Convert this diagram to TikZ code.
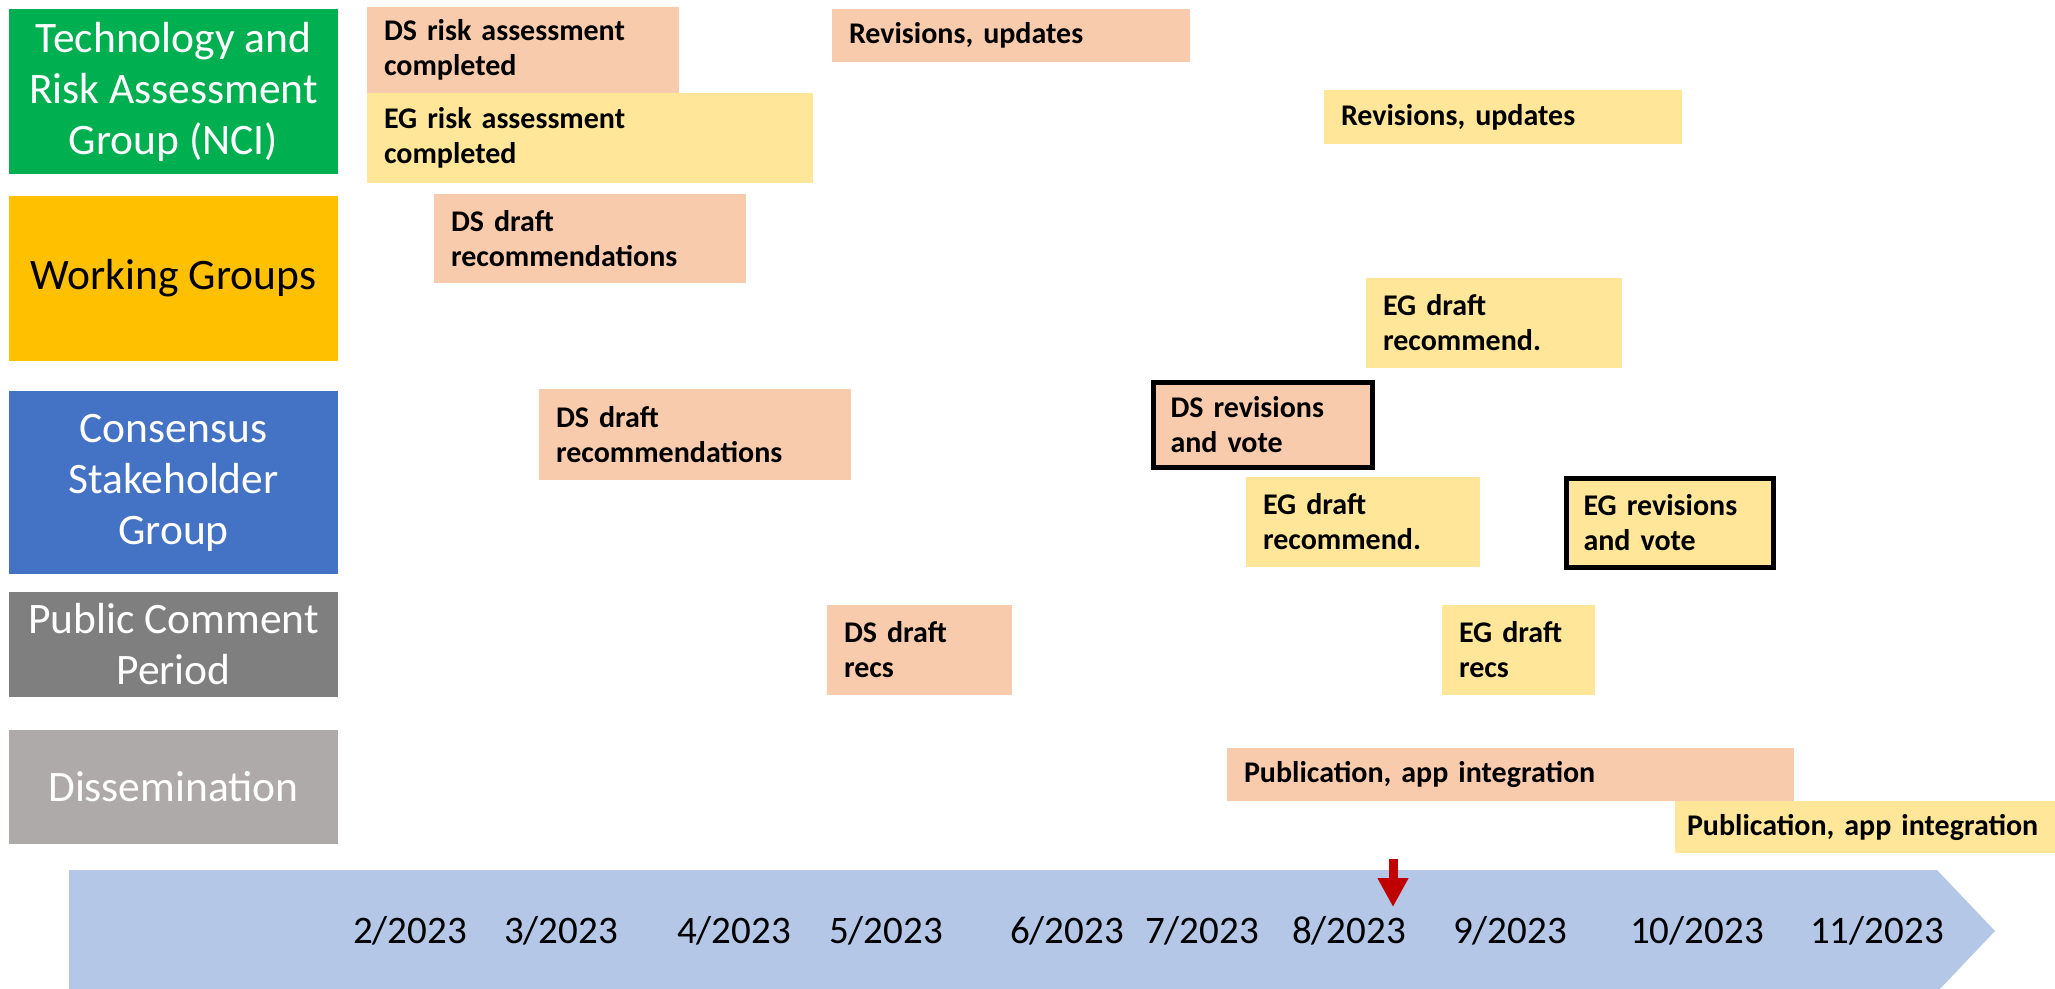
\documentclass[tikz,border=0pt]{standalone}
\usepackage{fontspec}
\setmainfont{Carlito}
\usetikzlibrary{arrows.meta}
\definecolor{dspeach}{HTML}{F8CBAD}
\definecolor{egyellow}{HTML}{FFE699}
\definecolor{trgreen}{HTML}{00B050}
\definecolor{wgamber}{HTML}{FFC000}
\definecolor{csgblue}{HTML}{4472C4}
\definecolor{pcgray}{HTML}{7F7F7F}
\definecolor{disgray}{HTML}{AEAAAA}
\definecolor{lineblue}{HTML}{B4C7E7}
\definecolor{nowred}{HTML}{C00000}
\begin{document}
\begin{tikzpicture}[x=1pt, y=-1pt,
    catbox/.style={minimum width=329pt, inner sep=0pt, align=center, text=white,
      font=\fontsize{43.5}{51}\selectfont},
    task/.style={inner xsep=17pt, inner ysep=0pt, align=left,
      font=\fontsize{30}{35}\selectfont\bfseries},
    dsbox/.style={task, fill=dspeach},
    egbox/.style={task, fill=egyellow},
    votebox/.style={draw=black, line width=5pt}]
  \useasboundingbox (0,0) rectangle (2055,988);

  % groups on the left
  \node[catbox, fill=trgreen, minimum height=165pt] (tra) at (173.5,91.5) {Technology and\\Risk Assessment\\Group (NCI)};
  \node[catbox, fill=wgamber, minimum height=165pt, text=black] (wg) at (173.5,278) {Working Groups};
  \node[catbox, fill=csgblue, minimum height=183pt] (csg) at (173.5,482.5) {Consensus\\Stakeholder\\Group};
  \node[catbox, fill=pcgray, minimum height=105pt] (pc) at (173.5,644.5) {Public Comment\\Period};
  \node[catbox, fill=disgray, minimum height=114pt] (dis) at (173.5,787) {Dissemination};

  % tasks
  \node[dsbox, text width=278pt, minimum height=86pt] (dsrisk) at (523,50) {DS risk assessment\\completed};
  \node[egbox, text width=412pt, minimum height=90pt] (egrisk) at (590,138) {EG risk assessment\\completed};
  \node[dsbox, text width=324pt, minimum height=53pt] (dsupd) at (1011,35.5) {Revisions, updates};
  \node[egbox, text width=324pt, minimum height=54pt] (egupd) at (1503,117) {Revisions, updates};
  \node[dsbox, text width=278pt, minimum height=89pt] (wgds) at (590,238.5) {DS draft\\recommendations};
  \node[egbox, text width=222pt, minimum height=90pt] (wgeg) at (1494,323) {EG draft\\recommend.};
  \node[dsbox, text width=278pt, minimum height=91pt] (csgds) at (695,434.5) {DS draft\\recommendations};
  \node[dsbox, votebox, text width=185pt, minimum height=85pt] (dsvote) at (1263,425) {DS revisions\\and vote};
  \node[egbox, text width=200pt, minimum height=90pt] (csgeg) at (1363,522) {EG draft\\recommend.};
  \node[egbox, votebox, text width=173pt, minimum height=89pt] (egvote) at (1670,523) {EG revisions\\and vote};
  \node[dsbox, text width=151pt, minimum height=90pt] (pcds) at (919.5,650) {DS draft\\recs};
  \node[egbox, text width=119pt, minimum height=90pt] (pceg) at (1518.5,650) {EG draft\\recs};
  \node[dsbox, text width=533pt, minimum height=53pt] (disds) at (1510.5,774.5) {Publication, app integration};
  \node[egbox, inner xsep=12pt, text width=356pt, minimum height=52pt] (diseg) at (1865,827) {Publication, app integration};

  % time line
  \fill[lineblue] (69,870) -- (1937,870) -- (1995,931) -- (1937,992) -- (69,992) -- cycle;
  \foreach \m/\x in {2/410, 3/561, 4/734, 5/886, 6/1067, 7/1202, 8/1349, 9/1510, 10/1697, 11/1877}
    \node[font=\fontsize{39}{46}\selectfont] (d\m) at (\x,931) {\m/2023};

  % today marker
  \coordinate (nowtop) at (1393,859);
  \coordinate (nowtip) at (1393,907);
  \draw[nowred, line width=9pt, -{Triangle[width=29pt, length=29pt]}] (nowtop) -- (nowtip);
\end{tikzpicture}
\end{document}
